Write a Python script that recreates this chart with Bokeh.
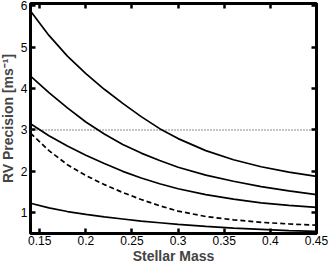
from bokeh.plotting import figure
from bokeh.models import Range1d, FixedTicker, LinearAxis
from bokeh.embed import file_html
from bokeh.resources import INLINE

# ---- data ----
mass = [0.14, 0.16, 0.18, 0.20, 0.22, 0.24, 0.26, 0.28, 0.30, 0.33, 0.36, 0.39, 0.42, 0.45]
curve_a = [5.87, 5.28, 4.78, 4.36, 3.98, 3.64, 3.32, 3.03, 2.79, 2.50, 2.28, 2.11, 1.98, 1.88]
curve_b = [4.30, 3.90, 3.53, 3.19, 2.90, 2.65, 2.44, 2.26, 2.10, 1.91, 1.76, 1.63, 1.53, 1.44]
curve_c = [3.15, 2.86, 2.61, 2.39, 2.19, 2.00, 1.84, 1.70, 1.58, 1.44, 1.33, 1.24, 1.18, 1.13]
curve_dashed = [2.92, 2.50, 2.16, 1.90, 1.68, 1.49, 1.32, 1.17, 1.04, 0.91, 0.83, 0.77, 0.73, 0.70]
curve_e = [1.23, 1.12, 1.03, 0.96, 0.90, 0.85, 0.80, 0.76, 0.72, 0.67, 0.63, 0.60, 0.57, 0.55]
threshold_x = [0.14, 0.45]
threshold_y = [3.0, 3.0]

x_ticks = [0.15, 0.2, 0.25, 0.3, 0.35, 0.4, 0.45]
x_tick_labels = ["0.15", "0.2", "0.25", "0.3", "0.35", "0.4", "0.45"]
y_ticks = [1, 2, 3, 4, 5, 6]

FONT = "Liberation Sans"

p = figure(width=335, height=270, output_backend="svg", toolbar_location=None,
           x_range=Range1d(0.14, 0.45), y_range=Range1d(0.5, 6.05),
           min_border_left=31, min_border_right=15, min_border_top=7, min_border_bottom=31)
p.margin = (-4, 0, 0, -4)
p.grid.visible = False
p.outline_line_color = "black"
p.outline_line_width = 3
p.background_fill_color = "white"
p.border_fill_color = "white"

def style_axis(ax, ticks, show_labels):
    ax.ticker = FixedTicker(ticks=ticks)
    ax.minor_tick_line_color = None
    ax.major_tick_in = 5
    ax.major_tick_out = 0
    ax.major_tick_line_width = 2.5
    ax.major_tick_line_color = "black"
    ax.axis_line_color = None
    ax.major_label_text_font = FONT
    if show_labels:
        ax.major_label_text_color = "black"
        ax.major_label_text_font_size = "12px"
    else:
        ax.major_label_text_color = None
        ax.major_label_text_font_size = "1px"
        ax.major_label_standoff = 0

xa = p.xaxis[0]
style_axis(xa, x_ticks, True)
xa.major_label_overrides = dict(zip(x_ticks, x_tick_labels))
xa.major_label_standoff = 2
xa.axis_label = "Stellar Mass"
xa.axis_label_text_font = FONT
xa.axis_label_text_font_style = "bold"
xa.axis_label_text_font_size = "14px"
xa.axis_label_standoff = 0

ya = p.yaxis[0]
style_axis(ya, y_ticks, True)
ya.major_label_standoff = 3
ya.axis_label = "RV Precision [ms\u207b\u00b9]"
ya.axis_label_text_font = FONT
ya.axis_label_text_font_style = "bold"
ya.axis_label_text_font_size = "14px"
ya.axis_label_standoff = 2

top = LinearAxis()
style_axis(top, x_ticks, False)
p.add_layout(top, "above")
right = LinearAxis()
style_axis(right, y_ticks, False)
p.add_layout(right, "right")

p.line(threshold_x, threshold_y, line_color="#8a8a8a", line_width=2, line_dash="1 2")
for ys in (curve_a, curve_b, curve_c, curve_e):
    p.line(mass, ys, line_color="black", line_width=1.7)
p.line(mass, curve_dashed, line_color="black", line_width=1.7, line_dash="5 3")

open("out.html", "w").write(file_html(p, INLINE))
